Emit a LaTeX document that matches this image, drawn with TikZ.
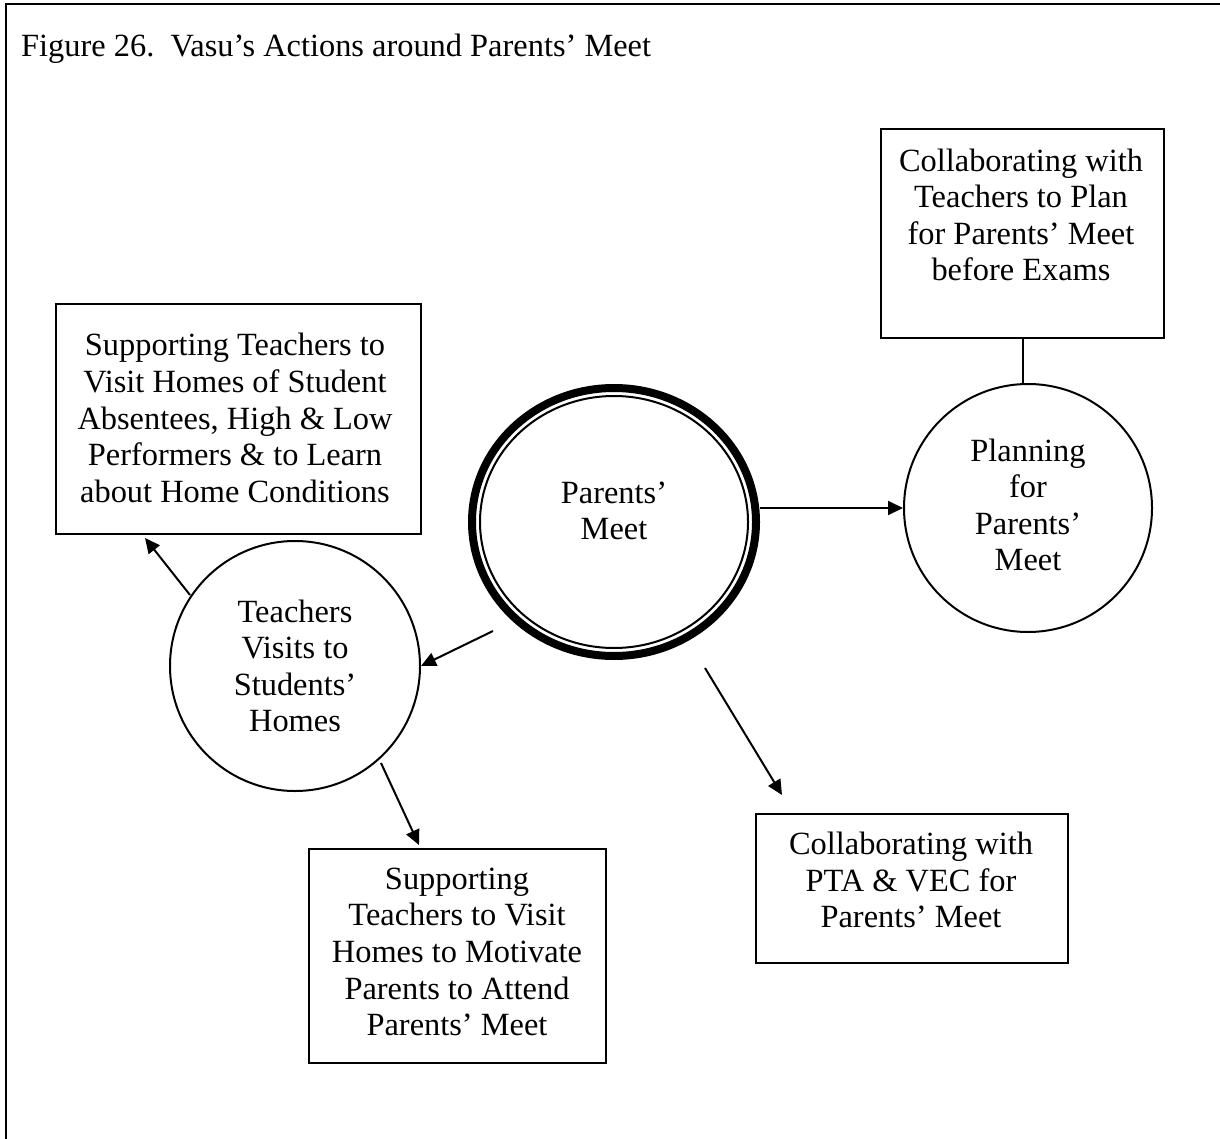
\documentclass[tikz,border=0pt]{standalone}
\usepackage{fontspec}
\setmainfont{Liberation Serif}
\usetikzlibrary{shapes.geometric,arrows.meta,calc}
\begin{document}
\begin{tikzpicture}[x=1pt,y=-1pt,
  txt/.style={font=\fontsize{32.4}{36.6}\selectfont, align=center, inner sep=0pt},
  boxshape/.style={draw, line width=2pt, inner sep=0pt, anchor=north west},
  circshape/.style={draw, circle, line width=2pt, inner sep=0pt},
  arr/.style={line width=2pt, -{Triangle[length=15pt,width=14pt]}},
  plainline/.style={line width=2pt}
]
\useasboundingbox (0,0) rectangle (1220,1139);
% frame
\draw[line width=2pt] (6,1139) -- (6,4) -- (1220,4);
\node[txt, anchor=base west] (title) at (21,57) {Figure 26.\ \ Vasu’s Actions around Parents’ Meet};

% shapes
\node[boxshape, minimum width=283, minimum height=209] (trbox) at (880,128) {};
\node[boxshape, minimum width=365, minimum height=230] (tl) at (55,303) {};
\node[boxshape, minimum width=297, minimum height=214] (bot) at (308,848) {};
\node[boxshape, minimum width=312, minimum height=149] (pta) at (755,813) {};
\node[circshape, minimum size=248] (plan) at (1028,508) {};
\node[circshape, minimum size=250] (teach) at (295,666) {};
\node[draw, ellipse, line width=8pt, inner sep=0pt, minimum width=284, minimum height=268] (pm) at (614,522) {};
\node[draw, ellipse, line width=2pt, inner sep=0pt, minimum width=268, minimum height=252] (pmin) at (pm.center) {};

% texts
\node[txt] (trtxt) at (1021,215) {Collaborating with\\Teachers to Plan\\for Parents’ Meet\\before Exams};
\node[txt] (tltxt) at (235,418) {Supporting Teachers to\\Visit Homes of Student\\Absentees, High \& Low\\Performers \& to Learn\\about Home Conditions};
\node[txt] (bottxt) at (457,952) {Supporting\\Teachers to Visit\\Homes to Motivate\\Parents to Attend\\Parents’ Meet};
\node[txt] (ptatxt) at (911,880) {Collaborating with\\PTA \& VEC for\\Parents’ Meet};
\node[txt] (plantxt) at (1028,505) {Planning\\for\\Parents’\\Meet};
\node[txt] (teachtxt) at (295,666) {Teachers\\Visits to\\Students’\\Homes};
\node[txt] (pmtxt) at (614,511) {Parents’\\Meet};

% connectors
\draw[plainline] (trbox.south) -- (trbox.south |- plan.north);
\draw[arr] (pm.east |- plan.west) -- (plan.west);
\draw[arr] ($(pm.center)+(-121,109)$) -- (teach.east);
\draw[arr] ($(pm.center)+(91,146)$) -- ($(pta.north west)+(27,-18)$);
\draw[arr] ($(teach.center)+(-105,-71)$) -- ($(tl.south west)+(90,3)$);
\draw[arr] ($(teach.center)+(86,97)$) -- ($(bot.north west)+(111,-3)$);
\end{tikzpicture}
\end{document}
